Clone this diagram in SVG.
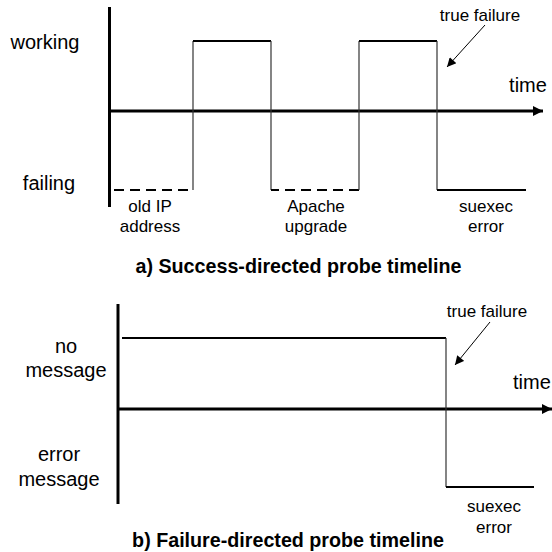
<svg xmlns="http://www.w3.org/2000/svg" width="552" height="552" viewBox="0 0 552 552">
<defs>
<style>
.lbl{font-family:"Liberation Sans",Arial,Helvetica,sans-serif;font-size:20px;fill:#000}
.sm{font-family:"Liberation Sans",Arial,Helvetica,sans-serif;font-size:17px;fill:#000}
.ttl{font-family:"Liberation Sans",Arial,Helvetica,sans-serif;font-size:19.7px;font-weight:bold;fill:#000}
.axis{stroke:#000;stroke-width:3;fill:none}
.sig{stroke:#000;stroke-width:2;fill:none}
.edge{stroke:#333;stroke-width:1.2;fill:none}
.dash{stroke:#000;stroke-width:2;fill:none;stroke-dasharray:10 6}
.ptr{stroke:#000;stroke-width:1;fill:none}
</style>
<marker id="bigArrow" viewBox="0 0 10 10" refX="10" refY="5" markerWidth="10" markerHeight="12" markerUnits="userSpaceOnUse" orient="auto"><path d="M0,0 L10,5 L0,10 Z" fill="#000"/></marker>
<marker id="smArrow" viewBox="0 0 10 10" refX="10" refY="5" markerWidth="11" markerHeight="9" markerUnits="userSpaceOnUse" orient="auto"><path d="M0,0 L10,5 L0,10 Z" fill="#000"/></marker>
</defs>

<g id="diagram-a">
  <g id="axes-a">
    <line class="axis" x1="109.5" y1="7" x2="109.5" y2="207"/>
    <line class="axis" x1="109" y1="111" x2="543" y2="111" marker-end="url(#bigArrow)"/>
  </g>
  <g id="signal-a">
    <line class="dash" x1="114" y1="190" x2="193" y2="190"/>
    <line class="edge" x1="193" y1="190" x2="193" y2="41"/>
    <line class="sig" x1="193" y1="41" x2="271" y2="41"/>
    <line class="edge" x1="271" y1="41" x2="271" y2="190"/>
    <line class="dash" x1="271" y1="190" x2="359" y2="190" stroke-dashoffset="2"/>
    <line class="edge" x1="359" y1="190" x2="359" y2="41"/>
    <line class="sig" x1="359" y1="41" x2="437" y2="41"/>
    <line class="edge" x1="437" y1="41" x2="437" y2="190"/>
    <line class="sig" x1="437" y1="190" x2="526" y2="190"/>
  </g>
  <g id="pointer-a">
    <line class="ptr" x1="485" y1="25" x2="447" y2="67" marker-end="url(#smArrow)"/>
  </g>
  <g id="labels-a">
    <text class="lbl" x="45" y="49" text-anchor="middle">working</text>
    <text class="lbl" x="49" y="190" text-anchor="middle">failing</text>
    <text class="lbl" x="528" y="92" text-anchor="middle">time</text>
    <text class="sm" x="480" y="21" text-anchor="middle">true failure</text>
    <text class="sm" x="150" y="212" text-anchor="middle">old IP</text>
    <text class="sm" x="150" y="232" text-anchor="middle">address</text>
    <text class="sm" x="316" y="212" text-anchor="middle">Apache</text>
    <text class="sm" x="316" y="232" text-anchor="middle">upgrade</text>
    <text class="sm" x="486" y="212" text-anchor="middle">suexec</text>
    <text class="sm" x="486" y="232" text-anchor="middle">error</text>
    <text class="ttl" x="298.5" y="272.5" text-anchor="middle">a) Success-directed probe timeline</text>
  </g>
</g>

<g id="diagram-b">
  <g id="axes-b">
    <line class="axis" x1="118" y1="304" x2="118" y2="504"/>
    <line class="axis" x1="118" y1="409" x2="552" y2="409" marker-end="url(#bigArrow)"/>
  </g>
  <g id="signal-b">
    <line class="sig" x1="122" y1="338" x2="446" y2="338"/>
    <line class="edge" x1="446" y1="338" x2="446" y2="487"/>
    <line class="sig" x1="446" y1="487" x2="534" y2="487"/>
  </g>
  <g id="pointer-b">
    <line class="ptr" x1="490" y1="322" x2="455" y2="365" marker-end="url(#smArrow)"/>
  </g>
  <g id="labels-b">
    <text class="lbl" x="66" y="353" text-anchor="middle">no</text>
    <text class="lbl" x="66" y="377" text-anchor="middle">message</text>
    <text class="lbl" x="59" y="461" text-anchor="middle">error</text>
    <text class="lbl" x="59" y="486" text-anchor="middle">message</text>
    <text class="lbl" x="513" y="389">time</text>
    <text class="sm" x="487" y="317" text-anchor="middle">true failure</text>
    <text class="sm" x="494" y="512" text-anchor="middle">suexec</text>
    <text class="sm" x="494" y="533" text-anchor="middle">error</text>
    <text class="ttl" x="288" y="547" text-anchor="middle">b) Failure-directed probe timeline</text>
  </g>
</g>
</svg>
